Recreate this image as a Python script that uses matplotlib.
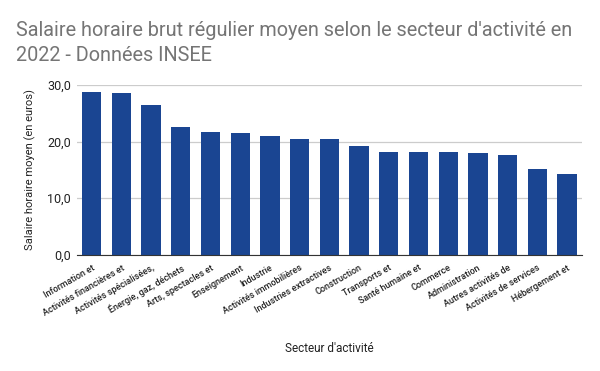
import matplotlib.pyplot as plt
import numpy as np

plt.rcParams['font.family'] = ['Roboto', 'DejaVu Sans']

# Données
secteurs = ['Information et', 'Activités financières et', 'Activités spécialisées,',
            'Énergie, gaz, déchets', 'Arts, spectacles et', 'Enseignement', 'Industrie',
            'Activités immobilières', 'Industries extractives', 'Construction',
            'Transports et', 'Santé humaine et', 'Commerce', 'Administration',
            'Autres activités de', 'Activités de services', 'Hébergement et']
salaires = [28.7, 28.6, 26.5, 22.6, 21.7, 21.5, 21.0, 20.4, 20.5, 19.2,
            18.2, 18.2, 18.2, 18.0, 17.6, 15.1, 14.3]
yticks = [0, 10, 20, 30]
ytick_labels = ['0,0', '10,0', '20,0', '30,0']

fig = plt.figure(figsize=(6, 3.71), dpi=100)
ax = fig.add_axes([0.128, 0.313, 0.842, 0.458])

x = np.arange(len(secteurs))
ax.bar(x, salaires, width=0.65, color='#1a4592', zorder=3)

ax.set_xlim(-0.5, len(secteurs) - 0.5)
ax.set_ylim(0, 30)
ax.set_yticks(yticks)
ax.set_yticklabels(ytick_labels, fontsize=9, color='#222222')
ax.set_xticks(x)
ax.set_xticklabels(secteurs, rotation=30, ha='right', rotation_mode='anchor',
                   fontsize=6.5, color='#222222', fontweight='medium')
ax.tick_params(length=0, pad=4)
ax.tick_params(axis='x', pad=6)

ax.grid(axis='y', color='#cccccc', linewidth=0.9, zorder=0)
for s in ['top', 'right', 'left']:
    ax.spines[s].set_visible(False)
ax.spines['bottom'].set_color('#333333')
ax.spines['bottom'].set_zorder(4)

ax.set_ylabel('Salaire horaire moyen (en euros)', fontsize=8, color='#222222', labelpad=8)
ax.set_xlabel("Secteur d'activité", fontsize=8.5, color='#222222', labelpad=18)

fig.text(0.027, 0.885, "Salaire horaire brut régulier moyen selon le secteur d'activité en\n2022 - Données INSEE",
         fontsize=14.3, color='#757575', va='center', linespacing=1.4)

plt.savefig('out.png', dpi=100)
